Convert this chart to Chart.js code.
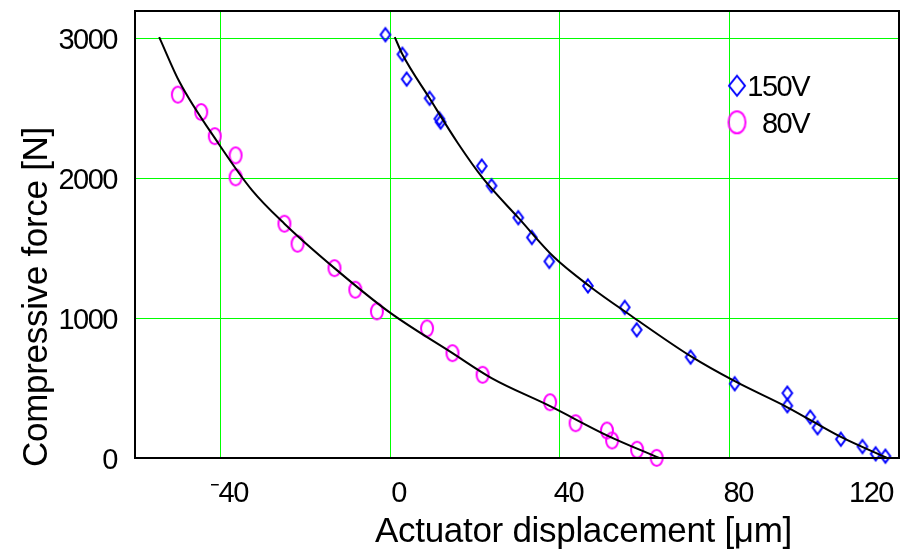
<!DOCTYPE html>
<html>
<head>
<meta charset="utf-8">
<script src="https://cdn.jsdelivr.net/npm/chart.js@4/dist/chart.umd.min.js"></script>
<style>
  html, body { margin: 0; padding: 0; background: #fff; }
  #wrap { width: 900px; height: 555px; }
</style>
</head>
<body>
<div id="wrap"><canvas id="c" width="900" height="555"></canvas></div>
<script>
// Measured points: 150 V drive
const disp150  = [-1.0, 3.0, 4.0, 9.4, 11.7, 12.0, 21.7, 24.0, 30.3, 33.5, 37.6, 46.7, 55.4, 58.2, 70.9, 81.3, 93.7, 93.7, 99.1, 100.8, 106.3, 111.4, 114.5, 116.8];
const force150 = [3021, 2881, 2704, 2567, 2421, 2397, 2083, 1943, 1715, 1574, 1403, 1228, 1075, 915, 720, 530, 463, 373, 292, 216, 134, 82, 30, 13];

// Measured points: 80 V drive
const disp80  = [-49.9, -44.4, -41.2, -36.3, -36.3, -24.8, -21.7, -13.0, -8.1, -3.0, 8.8, 14.8, 21.9, 37.8, 43.8, 51.2, 52.4, 58.3, 62.9];
const force80 = [2593, 2469, 2297, 2160, 2003, 1672, 1529, 1355, 1201, 1046, 925, 748, 594, 398, 248, 196, 125, 59, 1];

// Fitted load curves
const fitDisp150  = [1.2, 3.0, 9.4, 16.0, 22.0, 30.5, 38.7, 47.4, 56.8, 71.0, 81.3, 93.7, 106.3, 117.2];
const fitForce150 = [3004, 2881, 2567, 2250, 1995, 1708, 1434, 1219, 1017, 725, 548, 362, 150, 0];
const fitDisp80   = [-54.3, -49.5, -40.3, -32.4, -24.8, -13.0, 0, 14.8, 24.0, 37.8, 51.3, 63.5];
const fitForce80  = [3004, 2683, 2243, 1910, 1672, 1355, 1039, 748, 570, 370, 160, 0];

// Axes
const xTicks = [-40, 0, 40, 80, 120];
const xTickLabels = ['\u207B40', '0', '40', '80', '120'];
const yTicks = [0, 1000, 2000, 3000];
const yTickLabels = ['0', '1000', '2000', '3000'];
const seriesNames = ['150V', '80V'];
const xTitle = 'Actuator displacement [\u03BCm]';
const yTitle = 'Compressive force [N]';

const FONT = "'Liberation Sans', Arial, Helvetica, sans-serif";
const BLUE = '#0000ff';
const MAGENTA = '#ff00ff';
const GRID = '#00ff00';
const TIGHT = '-1.5px';

function pairs(xs, ys) { return xs.map((x, i) => ({ x: x, y: ys[i] })); }

// Marker sprites (outer size in px)
function ellipseSprite(w, h, lw, color) {
  const c = document.createElement('canvas');
  c.width = w + 2; c.height = h + 2;
  const g = c.getContext('2d');
  g.strokeStyle = color; g.lineWidth = lw;
  g.beginPath();
  g.ellipse(c.width / 2, c.height / 2, (w - lw) / 2, (h - lw) / 2, 0, 0, Math.PI * 2);
  g.stroke();
  return c;
}
function diamondSprite(hw, hh, lw, color) {
  const c = document.createElement('canvas');
  c.width = Math.ceil(2 * hw + 6); c.height = Math.ceil(2 * hh + 8);
  if (c.width % 2) c.width++;
  if (c.height % 2) c.height++;
  const g = c.getContext('2d');
  const cx = c.width / 2, cy = c.height / 2;
  g.strokeStyle = color; g.lineWidth = lw;
  g.lineJoin = 'miter'; g.miterLimit = 10;
  g.beginPath();
  g.moveTo(cx, cy - hh); g.lineTo(cx + hw, cy); g.lineTo(cx, cy + hh); g.lineTo(cx - hw, cy);
  g.closePath(); g.stroke();
  return c;
}

const diamond = diamondSprite(4.8, 6.5, 2, BLUE);
const ellipse = ellipseSprite(14, 18, 2, MAGENTA);
const diamondKey = diamondSprite(8, 10, 2, BLUE);
const ellipseKey = ellipseSprite(19, 24, 2, MAGENTA);

function noPadding(s) {
  s.paddingLeft = 0; s.paddingRight = 0; s.paddingTop = 0; s.paddingBottom = 0;
}

const decorations = {
  id: 'decorations',
  beforeDraw(chart) {
    // slightly condensed lettering for the tick numbers
    chart.ctx.letterSpacing = TIGHT;
  },
  beforeDatasetsDraw(chart) {
    // green grid from the axis ticks
    const { ctx, chartArea: a, scales } = chart;
    ctx.save();
    ctx.strokeStyle = GRID;
    ctx.lineWidth = 1;
    ctx.beginPath();
    xTicks.forEach(v => {
      const px = Math.round(scales.x.getPixelForValue(v)) + 0.5;
      ctx.moveTo(px, a.top); ctx.lineTo(px, a.bottom);
    });
    yTicks.forEach(v => {
      const py = Math.round(scales.y.getPixelForValue(v)) + 0.5;
      ctx.moveTo(a.left, py); ctx.lineTo(a.right, py);
    });
    ctx.stroke();
    ctx.restore();
  },
  afterDatasetsDraw(chart) {
    const { ctx, chartArea: a } = chart;
    ctx.save();
    ctx.strokeStyle = '#000';
    ctx.lineWidth = 2;
    ctx.strokeRect(a.left, a.top, a.right - a.left, a.bottom - a.top);
    ctx.restore();
  },
  afterDraw(chart) {
    const { ctx } = chart;
    const xs = chart.scales.x;
    ctx.save();
    ctx.fillStyle = '#000';

    // x tick labels, nudged right and kept inside the canvas
    ctx.letterSpacing = TIGHT;
    ctx.font = '29px ' + FONT;
    ctx.textAlign = 'center';
    ctx.textBaseline = 'alphabetic';
    xTicks.forEach((v, i) => {
      const label = xTickLabels[i];
      const w = ctx.measureText(label).width;
      let px = xs.getPixelForValue(v) + 9;
      px = Math.min(px, chart.width - 7 - w / 2);
      ctx.fillText(label, px, 501.5);
    });

    // legend
    ctx.textAlign = 'right';
    const keys = [diamondKey, ellipseKey];
    const rows = [85.7, 122.3];
    seriesNames.forEach((name, i) => {
      const k = keys[i];
      ctx.drawImage(k, 737 - k.width / 2, rows[i] - k.height / 2);
      ctx.fillText(name, 809, rows[i] + 10.5);
    });

    // axis titles
    ctx.letterSpacing = '-0.3px';
    ctx.textAlign = 'center';
    ctx.font = '35px ' + FONT;
    ctx.fillText(xTitle, 583.5, 542);
    ctx.save();
    ctx.translate(46.5, 297);
    ctx.rotate(-Math.PI / 2);
    ctx.fillText(yTitle, 0, 0);
    ctx.restore();
    ctx.restore();
  }
};

new Chart(document.getElementById('c'), {
  type: 'scatter',
  data: {
    datasets: [
      {
        label: seriesNames[0] + ' fit',
        data: pairs(fitDisp150, fitForce150),
        showLine: true, borderColor: '#000', borderWidth: 2,
        pointRadius: 0, cubicInterpolationMode: 'monotone', clip: false
      },
      {
        label: seriesNames[1] + ' fit',
        data: pairs(fitDisp80, fitForce80),
        showLine: true, borderColor: '#000', borderWidth: 2,
        pointRadius: 0, cubicInterpolationMode: 'monotone', clip: false
      },
      {
        label: seriesNames[0],
        data: pairs(disp150, force150),
        showLine: false, pointStyle: diamond, pointRadius: 7, clip: false
      },
      {
        label: seriesNames[1],
        data: pairs(disp80, force80),
        showLine: false, pointStyle: ellipse, pointRadius: 9, clip: false
      }
    ]
  },
  options: {
    responsive: false,
    animation: false,
    devicePixelRatio: 1,
    layout: { autoPadding: false, padding: { left: 0, top: 11, right: 1, bottom: 0 } },
    plugins: { legend: { display: false }, tooltip: { enabled: false } },
    scales: {
      x: {
        type: 'linear', min: -60, max: 120,
        afterBuildTicks: s => { s.ticks = xTicks.map(v => ({ value: v })); },
        afterFit: s => { s.height = 97; noPadding(s); },
        grid: { display: false, drawTicks: false },
        border: { display: false },
        ticks: { display: false }
      },
      y: {
        type: 'linear', min: 0, max: 3190,
        afterBuildTicks: s => { s.ticks = yTicks.map(v => ({ value: v })); },
        afterFit: s => { s.width = 135; noPadding(s); },
        grid: { display: false, drawTicks: false },
        border: { display: false },
        ticks: {
          color: '#000',
          font: { family: FONT, size: 29 },
          padding: 18,
          labelOffset: 3,
          callback: v => yTickLabels[yTicks.indexOf(v)]
        }
      }
    }
  },
  plugins: [decorations]
});
</script>
</body>
</html>
